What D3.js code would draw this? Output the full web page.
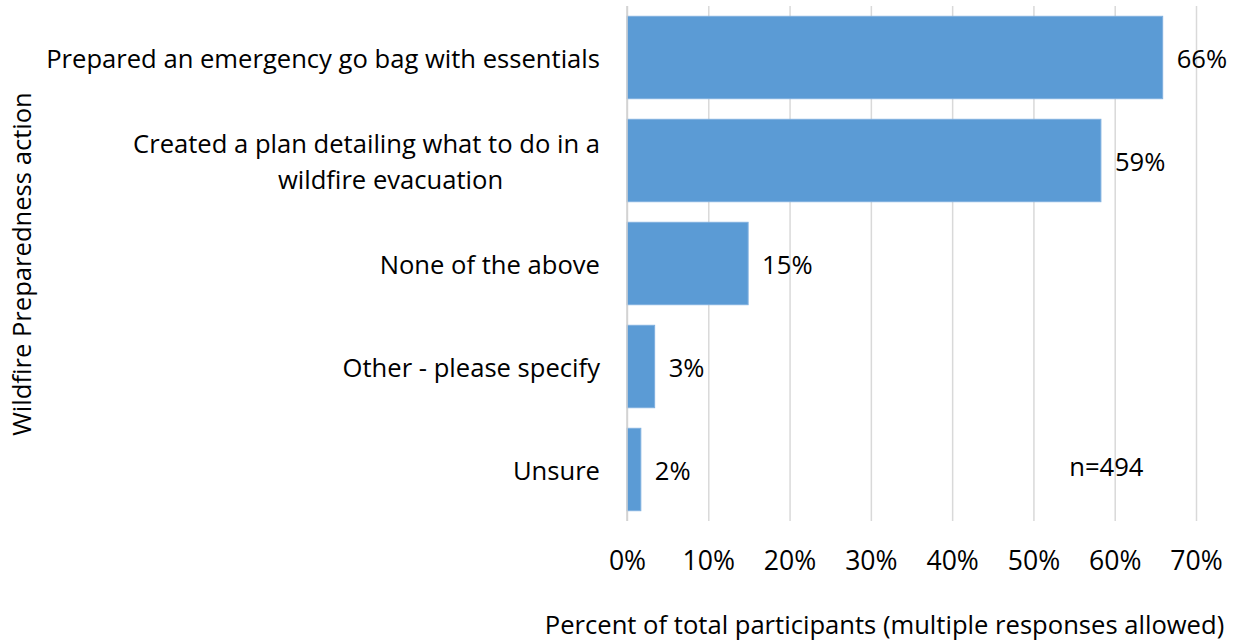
<!DOCTYPE html>
<html><head><meta charset="utf-8">
<script src="https://cdn.jsdelivr.net/npm/d3@7"></script>
<style>body{margin:0;background:#fff}text{font-family:"Open Sans",sans-serif;fill:#000}</style>
</head><body><svg id="c" width="1237" height="641"></svg>
<script>
const categories = ["Prepared an emergency go bag with essentials","Created a plan detailing what to do in a|wildfire evacuation","None of the above","Other - please specify","Unsure"];
const values = [65.9, 58.3, 14.9, 3.4, 1.7];
const valueLabels = ["66%","59%","15%","3%","2%"];
const ticks = [0,10,20,30,40,50,60,70];
const note = "n=494";
const xTitle = "Percent of total participants (multiple responses allowed)";
const yTitle = "Wildfire Preparedness action";

const svg = d3.select("#c");
const m = {l:627, r:1196, t:6, b:521};
const x = d3.scaleLinear().domain([0,70]).range([m.l, m.r]);
const y = d3.scaleBand().domain(categories).range([m.t, m.b]).paddingInner(0.2).paddingOuter(0.1);
const fs = 25.6;

// gridlines
const xAxis = d3.axisBottom(x).tickValues(ticks).tickFormat(d=>d+"%").tickSize(-(m.b-m.t)).tickPadding(33);
const gx = svg.append("g").attr("transform",`translate(0,${m.b})`).call(xAxis);
gx.select(".domain").remove();
gx.selectAll(".tick line").attr("stroke","#d9d9d9").attr("stroke-width",1.5);
gx.selectAll(".tick text").style("font-size",(fs+1)+"px").attr("dy","0.6em");

// bars
svg.append("g").selectAll("rect").data(values).join("rect")
  .attr("x", x(0)).attr("y",(d,i)=>y(categories[i]))
  .attr("width", d=>x(d)-x(0)).attr("height", y.bandwidth())
  .attr("fill","#5b9bd5").attr("stroke","#7fb0df").attr("stroke-width",1);

// axis line at 0
svg.append("line").attr("x1",x(0)).attr("x2",x(0)).attr("y1",m.t).attr("y2",m.b).attr("stroke","#d0d0d0").attr("stroke-width",1.5);

// value labels
svg.append("g").selectAll("text").data(values).join("text")
  .attr("x", d=>x(d)+14).attr("y",(d,i)=>y(categories[i])+y.bandwidth()/2)
  .attr("dy","0.4em").style("font-size",fs+"px").text((d,i)=>valueLabels[i]);

// category labels
categories.forEach((c,i)=>{
  const cy = y(c)+y.bandwidth()/2;
  const lines = c.split("|");
  if(lines.length===1){
    svg.append("text").attr("x",600).attr("y",cy).attr("dy","0.4em").attr("text-anchor","end").style("font-size",fs+"px").text(c);
  } else {
    const t1 = svg.append("text").attr("x",600).attr("y",cy-18).attr("dy","0.4em").attr("text-anchor","end").style("font-size",fs+"px").text(lines[0]);
    const w = t1.node().getComputedTextLength();
    svg.append("text").attr("x",600-w/2+24).attr("y",cy+18).attr("dy","0.4em").attr("text-anchor","middle").style("font-size",fs+"px").text(lines[1]);
  }
});

// note
svg.append("text").attr("x",x(54.4)).attr("y",467).attr("dy","0.35em").style("font-size",fs+"px").text(note);

// axis titles
svg.append("text").attr("x",(543+1226)/2).attr("y",625).attr("dy","0.35em").attr("text-anchor","middle").style("font-size",fs+"px").text(xTitle);
svg.append("text").attr("transform","translate(22,264) rotate(-90)").attr("dy","0.35em").attr("text-anchor","middle").style("font-size",fs+"px").text(yTitle);
</script></body></html>
